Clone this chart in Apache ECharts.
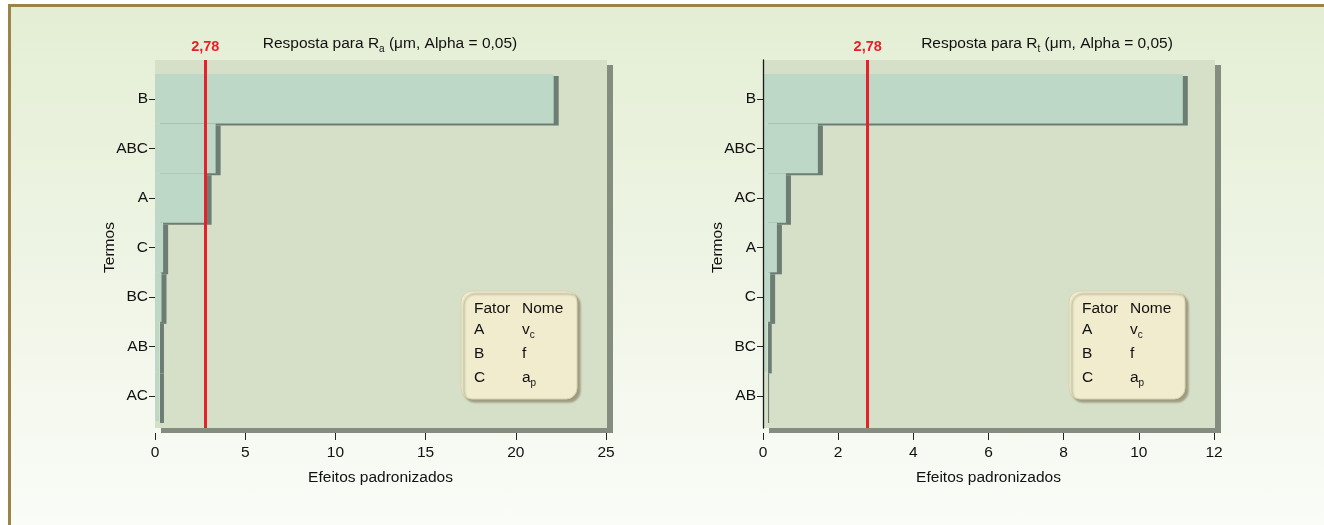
<!DOCTYPE html>
<html>
<head>
<meta charset="utf-8">
<script src="https://cdn.jsdelivr.net/npm/echarts@6/dist/echarts.min.js"></script>
<style>
  html, body { margin: 0; padding: 0; background: #ffffff; width: 1324px; height: 525px; overflow: hidden; }
  #frame { position: absolute; left: 8px; top: 4px; width: 1340px; height: 540px;
           border-left: 3px solid #9b8447; border-top: 3px solid #9b8447;
           background: linear-gradient(to bottom, #e4eed4 0%, #eef4e4 45%, #fbfdf9 100%); }
  #chart { position: absolute; left: 0; top: 0; width: 1324px; height: 525px; }
</style>
</head>
<body>
<div id="frame"></div>
<div id="chart"></div>
<script>
// ---- data ----
const termsRa = ['B', 'ABC', 'A', 'C', 'BC', 'AB', 'AC'];
const effectsRa = [22.1, 3.36, 2.86, 0.45, 0.36, 0.22, 0.22];
const termsRt = ['B', 'ABC', 'AC', 'A', 'C', 'BC', 'AB'];
const effectsRt = [11.17, 1.46, 0.61, 0.37, 0.19, 0.1, 0.03];
const criticalValue = 2.78;
const criticalLabel = '2,78';
const xTicksRa = { min: 0, max: 25, interval: 5 };
const xTicksRt = { min: 0, max: 12, interval: 2 };
const factorRows = [['A', 'v', 'c'], ['B', 'f', ''], ['C', 'a', 'p']];

const FONT = '"Liberation Sans", Arial, sans-serif';
const FS = 15.5;
const RED = '#e8202a';
const chart = echarts.init(document.getElementById('chart'), null, { renderer: 'canvas' });

function bgGrid(left) {
  return { left: left, top: 60, width: 452, height: 368, show: true,
           backgroundColor: '#d6dfc7', borderWidth: 0,
           shadowColor: '#858d80', shadowBlur: 0, shadowOffsetX: 6, shadowOffsetY: 5 };
}
function dataGrid(left) {
  return { left: left, top: 74, width: 451, height: 347, show: false };
}
function hiddenX(grid, t) {
  return { type: 'value', gridIndex: grid, min: t.min, max: t.max, show: false };
}
function dataX(grid, t) {
  return { type: 'value', gridIndex: grid, min: t.min, max: t.max, interval: t.interval,
           offset: 12, axisLine: { show: false },
           axisTick: { show: true, length: 7, lineStyle: { color: '#222', width: 1 } },
           axisLabel: { color: '#111', fontSize: FS, fontFamily: FONT, margin: 12 },
           splitLine: { show: false },
           name: 'Efeitos padronizados', nameLocation: 'middle', nameGap: 37,
           nameTextStyle: { color: '#111', fontSize: FS, fontFamily: FONT } };
}
function dataY(grid, cats) {
  return { type: 'category', gridIndex: grid, data: cats, inverse: true,
           axisLine: { show: false },
           axisTick: { show: true, alignWithLabel: true, length: 6, lineStyle: { color: '#222' } },
           axisLabel: { color: '#111', fontSize: FS, fontFamily: FONT, margin: 7 },
           name: 'Termos', nameLocation: 'middle', nameGap: 37, nameRotate: 90,
           nameMoveOverlap: false,
           nameTextStyle: { color: '#111', fontSize: FS, fontFamily: FONT } };
}
function bgY(grid, line) {
  return { type: 'value', gridIndex: grid, min: 0, max: 1, show: true, z: 5,
           axisLine: { show: line, lineStyle: { color: '#1a1a1a', width: 1.3 } },
           axisTick: { show: false }, axisLabel: { show: false }, splitLine: { show: false } };
}
function barSeries(xi, yi, vals) {
  return { type: 'bar', xAxisIndex: xi, yAxisIndex: yi, data: vals,
           barCategoryGap: '0%', barGap: '0%', silent: true,
           itemStyle: { color: '#bed8c8', shadowColor: '#6c7d73', shadowBlur: 0,
                        shadowOffsetX: 5, shadowOffsetY: 2 } };
}
function critSeries(xi, yi) {
  return { type: 'line', xAxisIndex: xi, yAxisIndex: yi, data: [], silent: true, z: 4,
           markLine: { silent: true, symbol: ['none', 'none'], animation: false,
             lineStyle: { color: RED, width: 3, type: 'solid' },
             label: { show: true, position: 'end', formatter: criticalLabel, color: RED,
                      fontWeight: 'bold', fontSize: 14.5, fontFamily: FONT, distance: 6 },
             data: [{ xAxis: criticalValue }] } };
}
function titleText(cx, sub) {
  return { type: 'text', x: cx, y: 44, silent: true,
           style: { align: 'center', verticalAlign: 'middle',
             text: '{n|Resposta para R}{s|' + sub + '}{n| (μm, Alpha = 0,05)}',
             rich: { n: { fontSize: FS, fontFamily: FONT, fill: '#111', lineHeight: 20 },
                     s: { fontSize: 10, fontFamily: FONT, fill: '#111', lineHeight: 12, verticalAlign: 'bottom' } } } };
}
function legendBox(x, y) {
  const children = [
    { type: 'rect', shape: { x: 0, y: 0, width: 116, height: 108, r: 11 },
      style: { fill: '#f1ecce', stroke: '#d8d2ae', lineWidth: 1,
               shadowColor: '#9c9a80', shadowBlur: 2, shadowOffsetX: 3, shadowOffsetY: 3 } },
    { type: 'text', style: { x: 13, y: 18, text: 'Fator', font: FS + 'px ' + FONT, fill: '#111', verticalAlign: 'middle' } },
    { type: 'text', style: { x: 61, y: 18, text: 'Nome', font: FS + 'px ' + FONT, fill: '#111', verticalAlign: 'middle' } }
  ];
  factorRows.forEach((r, i) => {
    const yy = 39 + i * 24;
    children.push({ type: 'text', style: { x: 13, y: yy, text: r[0], font: FS + 'px ' + FONT, fill: '#111', verticalAlign: 'middle' } });
    children.push({ type: 'text', style: { x: 61, y: yy,
      text: '{n|' + r[1] + '}' + (r[2] ? '{s|' + r[2] + '}' : ''), verticalAlign: 'middle',
      rich: { n: { fontSize: FS, fontFamily: FONT, fill: '#111', lineHeight: 20 },
              s: { fontSize: 10, fontFamily: FONT, fill: '#111', lineHeight: 12, verticalAlign: 'bottom' } } } });
  });
  return { type: 'group', x: x, y: y, silent: true, children: children };
}

chart.setOption({
  animation: false,
  backgroundColor: 'transparent',
  grid: [bgGrid(155), dataGrid(155), bgGrid(763), dataGrid(763)],
  xAxis: [hiddenX(0, xTicksRa), dataX(1, xTicksRa), hiddenX(2, xTicksRt), dataX(3, xTicksRt)],
  yAxis: [bgY(0, false), dataY(1, termsRa), bgY(2, true), dataY(3, termsRt)],
  series: [
    barSeries(1, 1, effectsRa), critSeries(0, 0),
    barSeries(3, 3, effectsRt), critSeries(2, 2)
  ],
  graphic: [titleText(390, 'a'), titleText(1047, 't'), legendBox(461, 291), legendBox(1069, 291)]
});
</script>
</body>
</html>
